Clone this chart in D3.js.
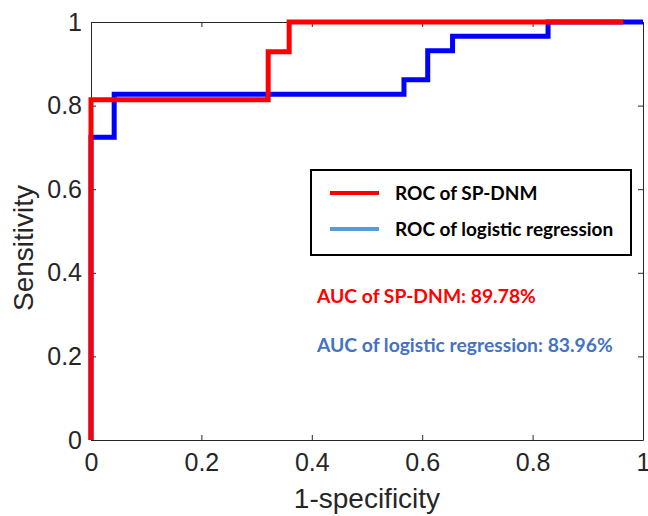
<!DOCTYPE html>
<html lang="en">
<head>
<meta charset="UTF-8">
<title>ROC curves</title>
<script src="https://d3js.org/d3.v7.min.js"></script>
<style>
  body { margin: 0; background: #fff; }
  .tick text { font-family: "Liberation Sans", Arial, sans-serif; }
  .note { font-family: Lato, "Open Sans", sans-serif; font-weight: 700; }
</style>
</head>
<body>
<svg id="chart" width="648" height="516"></svg>
<script>
// ROC of SP-DNM (x = 1-specificity, y = sensitivity)
const spdnmX = [0, 0, 0.321, 0.321, 0.359, 0.359, 0.964];
const spdnmY = [0, 0.814, 0.814, 0.929, 0.929, 1, 1];

// ROC of logistic regression
const logX = [0, 0, 0.042, 0.042, 0.567, 0.567, 0.610, 0.610, 0.655, 0.655, 0.828, 0.828, 1];
const logY = [0, 0.724, 0.724, 0.827, 0.827, 0.862, 0.862, 0.931, 0.931, 0.966, 0.966, 1, 1];

const xTicks = [0, 0.2, 0.4, 0.6, 0.8, 1];
const yTicks = [0, 0.2, 0.4, 0.6, 0.8, 1];
const legendLabels = ["ROC of SP-DNM", "ROC of logistic regression"];
const aucLabels = ["AUC of SP-DNM: 89.78%", "AUC of logistic regression: 83.96%"];

const svg = d3.select("#chart");
const margin = { top: 22, right: 5, bottom: 76, left: 91 };
const width = 648 - margin.left - margin.right;
const height = 516 - margin.top - margin.bottom;

const g = svg.append("g").attr("transform", `translate(${margin.left},${margin.top})`);

const x = d3.scaleLinear().domain([0, 1]).range([0, width]);
const y = d3.scaleLinear().domain([0, 1]).range([height, 0]);

const fmt = d => d === 0 || d === 1 ? d3.format("d")(d) : d3.format(".1f")(d);
const axisColor = "#262626";

// bottom / left axes with labels, ticks pointing inward
const xAxis = g.append("g").attr("transform", `translate(0,${height})`)
  .call(d3.axisBottom(x).tickValues(xTicks).tickFormat(fmt).tickSizeInner(-5).tickSizeOuter(0).tickPadding(10));
const yAxis = g.append("g")
  .call(d3.axisLeft(y).tickValues(yTicks).tickFormat(fmt).tickSizeInner(-5).tickSizeOuter(0).tickPadding(9));
// top / right axes without labels
const xTop = g.append("g")
  .call(d3.axisTop(x).tickValues(xTicks).tickFormat("").tickSizeInner(-5).tickSizeOuter(0));
const yRight = g.append("g").attr("transform", `translate(${width},0)`)
  .call(d3.axisRight(y).tickValues(yTicks).tickFormat("").tickSizeInner(-5).tickSizeOuter(0));

[xAxis, yAxis, xTop, yRight].forEach(a => {
  a.select(".domain").attr("stroke", axisColor).attr("stroke-width", 1);
  a.selectAll(".tick line").attr("stroke", axisColor);
  a.selectAll(".tick text").attr("fill", "#262626").style("font-size", "25px");
});
xAxis.selectAll(".tick text").attr("dy", "0.85em");

// axis titles
g.append("text")
  .attr("x", width / 2).attr("y", height + 68)
  .attr("text-anchor", "middle")
  .attr("fill", "#262626")
  .style("font-family", "'Liberation Sans', Arial, sans-serif")
  .style("font-size", "28px")
  .text("1-specificity");
g.append("text")
  .attr("transform", `translate(-58,${height / 2 + 17}) rotate(-90)`)
  .attr("text-anchor", "middle")
  .attr("fill", "#262626")
  .style("font-family", "'Liberation Sans', Arial, sans-serif")
  .style("font-size", "28px")
  .text("Sensitivity");

// curves
const line = d3.line().x(d => x(d[0])).y(d => y(d[1]));
const logPts = logX.map((v, i) => [v, logY[i]]);
const spPts = spdnmX.map((v, i) => [v, spdnmY[i]]);

g.append("path").datum(logPts)
  .attr("d", line).attr("fill", "none")
  .attr("stroke", "#0000ff").attr("stroke-width", 5)
  .attr("stroke-linejoin", "miter").attr("stroke-linecap", "butt");
g.append("path").datum(spPts)
  .attr("d", line).attr("fill", "none")
  .attr("stroke", "#ff0000").attr("stroke-width", 5)
  .attr("stroke-linejoin", "miter").attr("stroke-linecap", "butt");

// legend
const legendColors = ["#ff0000", "#5b9bd5"];
const lg = svg.append("g").attr("transform", "translate(311,170)");
lg.append("rect").attr("width", 320).attr("height", 85)
  .attr("fill", "#fff").attr("stroke", "#000").attr("stroke-width", 2);
legendLabels.forEach((label, i) => {
  const ly = 23 + i * 36;
  lg.append("line").attr("x1", 19).attr("x2", 68).attr("y1", ly).attr("y2", ly)
    .attr("stroke", legendColors[i]).attr("stroke-width", 4);
  lg.append("text").attr("class", "note")
    .attr("x", 84).attr("y", ly).attr("dy", "0.35em")
    .style("font-size", "19px").attr("fill", "#000")
    .text(label);
});

// AUC notes
const aucColors = ["#ff0000", "#4472c4"];
aucLabels.forEach((label, i) => {
  svg.append("text").attr("class", "note")
    .attr("x", 317).attr("y", 296 + i * 49).attr("dy", "0.35em")
    .style("font-size", "19.3px").attr("fill", aucColors[i])
    .text(label);
});
</script>
</body>
</html>
